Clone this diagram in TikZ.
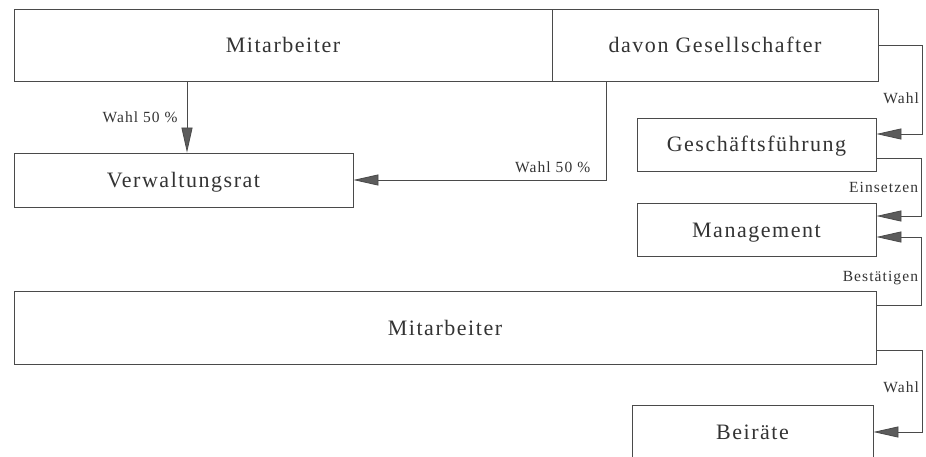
\documentclass[tikz,border=0pt]{standalone}
\usepackage{fontspec}
\setmainfont{Liberation Serif}
\newfontfamily\orgfont[LetterSpace=7]{Liberation Serif}
\newfontfamily\orglabelfont[LetterSpace=7]{Liberation Serif}
\usepackage{xcolor}
\usepackage{tikz}
\usetikzlibrary{arrows.meta, calc}
\definecolor{linegray}{HTML}{4A4A4A}
\definecolor{tipgray}{HTML}{5C5C5C}
\definecolor{textgray}{HTML}{333333}
\tikzset{
    orgbox/.style={rectangle, draw=linegray, line width=0.8pt, inner sep=0pt, text=textgray, font=\orgfont\fontsize{22}{26}\selectfont, text height=19pt, text depth=4pt},
    arrow/.style={-{Triangle[length=25pt, width=11pt, fill=tipgray]}, draw=linegray, line width=0.8pt},
    edgelabel/.style={font=\orglabelfont\fontsize{15.5}{18}\selectfont, text=textgray, inner sep=3pt}
}

\begin{document}
\begin{tikzpicture}[x=1pt, y=-1pt]
    \useasboundingbox (0,0) rectangle (926,457);

    % Obere Ebene
    \node[orgbox, minimum width=538pt, minimum height=72pt] (mitarbeiter) at (283,45) {Mitarbeiter};
    \node[orgbox, minimum width=326pt, minimum height=72pt] (gesellschafter) at (715,45) {davon Gesellschafter};

    % Gremien
    \node[orgbox, minimum width=339pt, minimum height=54pt] (verwaltung) at (183.5,180) {Verwaltungsrat};
    \node[orgbox, minimum width=239pt, minimum height=53pt] (gf) at (756.5,144.5) {Geschäftsführung};
    \node[orgbox, minimum width=239pt, minimum height=53pt] (management) at (756.5,229.5) {Management};

    % Untere Ebene
    \node[orgbox, minimum width=862pt, minimum height=73pt] (mitarbeiterB) at (445,327.5) {Mitarbeiter};
    \node[orgbox, minimum width=241pt, minimum height=54pt] (beirate) at (752.5,432) {Beiräte};

    % Wahl des Verwaltungsrats
    \draw[arrow] ([xshift=3.5pt]verwaltung.north |- mitarbeiter.south) -- ([xshift=3.5pt]verwaltung.north) node[edgelabel, pos=0.5, left, xshift=-6pt] {Wahl 50 \%};
    \draw[arrow] ([xshift=55pt]gesellschafter.south west) |- (verwaltung.east) node[edgelabel, pos=0.5, anchor=base east, xshift=-13pt, yshift=7pt] {Wahl 50 \%};

    % Rechte Seite
    \draw[arrow] (gesellschafter.east) -- ++(44,0) |- ([yshift=10.5pt]gf.east) node[edgelabel, pos=0.3, left] {Wahl};
    \draw[arrow] ([yshift=-13.5pt]gf.east) -- ++(45,0) |- ([yshift=13.5pt]management.east) node[edgelabel, pos=0.25, left] {Einsetzen};
    \draw[arrow] ([yshift=22.5pt]mitarbeiterB.east) -- ++(45,0) |- ([yshift=-7.5pt]management.east) node[edgelabel, pos=0.2, left] {Bestätigen};
    \draw[arrow] ([yshift=-22.5pt]mitarbeiterB.east) -- ++(46,0) |- (beirate.east) node[edgelabel, pos=0.23, left] {Wahl};
\end{tikzpicture}
\end{document}
